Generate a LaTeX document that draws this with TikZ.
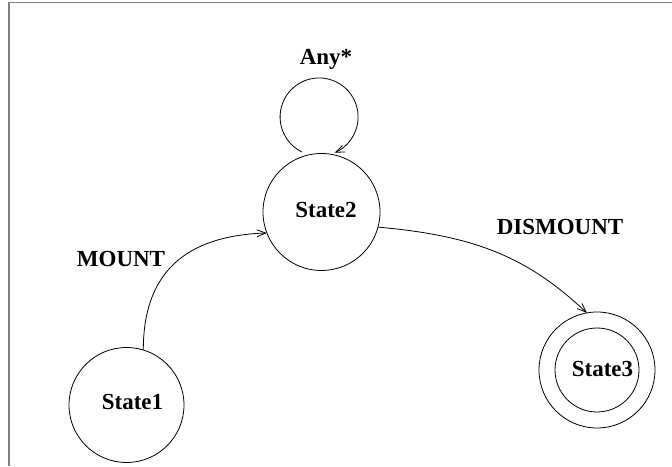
\documentclass[tikz,border=0pt]{standalone}
\usepackage{fontspec}
\setmainfont{Liberation Serif}
\usetikzlibrary{arrows.meta,calc}

\begin{document}
\begin{tikzpicture}[
  x=1pt, y=1pt,
  state/.style={circle, draw=black, line width=0.8pt, inner sep=0pt, outer sep=0pt},
  lbl/.style={font=\fontsize{23}{27}\selectfont\bfseries, anchor=base, inner sep=0pt},
  trans/.style={line width=0.8pt, -{Straight Barb[length=9pt,width=7pt,line width=0.8pt]}},
  frame/.style={draw=black!50, line width=1.6pt}
]
  \useasboundingbox (0,0) rectangle (672,466);

  % frame: top and left edges only
  \draw[frame] (8.7,0) -- (8.7,463.3) -- (672,463.3);

  % states
  \node[state, minimum size=115pt] (s1) at (126.5,61) {};
  \node[state, minimum size=117pt] (s2) at (321.5,254) {};
  \node[state, minimum size=116pt] (s3) at (597,96) {};
  \node[state, minimum size=84pt]  (s3in) at (597,96) {};

  % state names
  \node[lbl] (t1) at (132.5,56.5) {State1};
  \node[lbl] (t2) at (326,248.5) {State2};
  \node[lbl] (t3) at (602.5,89.5) {State3};

  % transitions
  \draw[trans] (s1.73) .. controls +(90:77) and +(182:82) .. (s2.201.6);
  \draw[trans] (s2.-15) .. controls +(-5:100) and +(137:80) .. (s3.100);

  % self loop on State2
  \coordinate (loopA) at ($(s2.center)+(-19.5,60)$);
  \draw[trans] (loopA) arc[start angle=244, end angle=-66.6, radius=39];

  % transition labels
  \node[lbl] (lmount) at (121,199.5) {MOUNT};
  \node[lbl] (ldismount) at (560,231.5) {DISMOUNT};
  \node[lbl] (lany) at (326,401.5) {Any*};
\end{tikzpicture}
\end{document}
